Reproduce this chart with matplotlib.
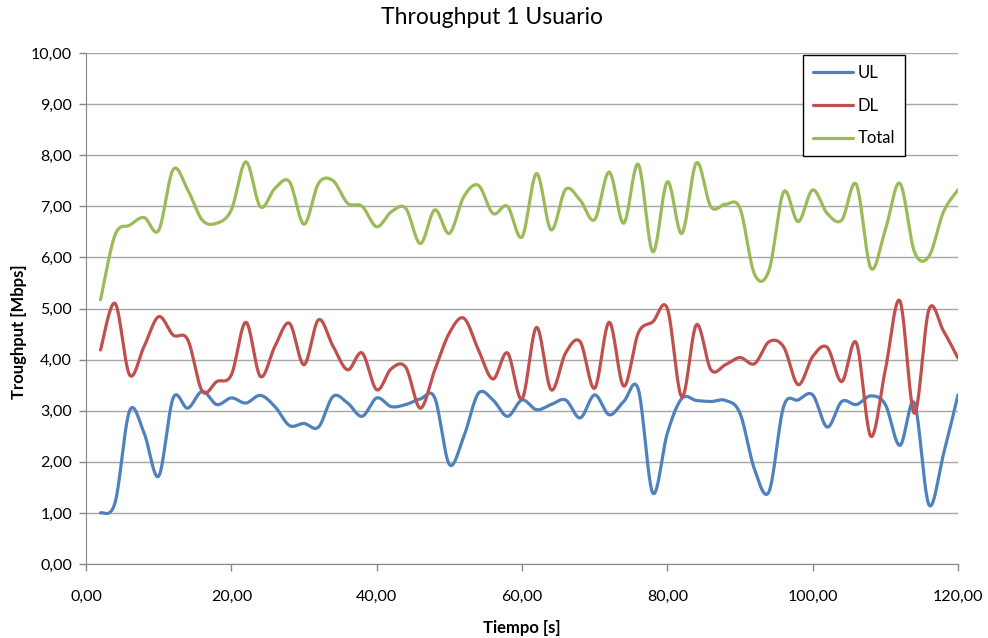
import numpy as np
import matplotlib.pyplot as plt
from matplotlib.ticker import FuncFormatter

# time in seconds (one sample every 2 s)
tiempo = list(range(2, 122, 2))

ul = [1.00, 1.20, 3.00, 2.56, 1.72, 3.25, 3.05, 3.38, 3.12, 3.25,
      3.15, 3.30, 3.08, 2.71, 2.75, 2.68, 3.28, 3.15, 2.89, 3.25,
      3.08, 3.12, 3.23, 3.25, 1.95, 2.50, 3.34, 3.21, 2.89, 3.21,
      3.02, 3.12, 3.21, 2.86, 3.31, 2.92, 3.18, 3.42, 1.39, 2.56,
      3.24, 3.20, 3.18, 3.20, 2.95, 1.85, 1.42, 3.08, 3.21, 3.31,
      2.68, 3.18, 3.12, 3.29, 3.12, 2.32, 3.15, 1.16, 2.15, 3.31]

dl = [4.19, 5.10, 3.70, 4.26, 4.84, 4.48, 4.39, 3.38, 3.57, 3.70,
      4.73, 3.67, 4.26, 4.71, 3.90, 4.78, 4.26, 3.80, 4.13, 3.41,
      3.82, 3.85, 3.05, 3.80, 4.52, 4.81, 4.19, 3.62, 4.13, 3.23,
      4.63, 3.41, 4.13, 4.35, 3.44, 4.73, 3.48, 4.52, 4.74, 5.00,
      3.27, 4.68, 3.80, 3.90, 4.04, 3.92, 4.35, 4.25, 3.51, 4.06,
      4.24, 3.57, 4.33, 2.50, 3.80, 5.15, 2.95, 4.98, 4.56, 4.03]

total = [5.17, 6.44, 6.63, 6.78, 6.53, 7.72, 7.32, 6.73, 6.67, 6.93,
         7.87, 6.99, 7.35, 7.48, 6.65, 7.45, 7.50, 7.06, 7.00, 6.60,
         6.89, 6.96, 6.27, 6.93, 6.47, 7.19, 7.41, 6.86, 7.00, 6.40,
         7.64, 6.54, 7.33, 7.12, 6.74, 7.67, 6.67, 7.82, 6.11, 7.48,
         6.47, 7.85, 6.99, 7.04, 6.96, 5.67, 5.75, 7.28, 6.70, 7.32,
         6.86, 6.73, 7.43, 5.79, 6.54, 7.45, 6.11, 6.02, 6.89, 7.32]

series = [("UL", ul, "#4F81BD"), ("DL", dl, "#C0504D"), ("Total", total, "#9BBB59")]


def smooth(x, y, n=24):
    # bezier curve through every point, like the "smoothed line" option in Excel
    x = np.asarray(x, float)
    y = np.asarray(y, float)
    px = np.concatenate([[x[0]], x, [x[-1]]])
    py = np.concatenate([[y[0]], y, [y[-1]]])
    t = np.linspace(0, 1, n, endpoint=False)[:, None]
    xs, ys = [], []
    for i in range(1, len(px) - 2):
        p0 = np.array([px[i], py[i]])
        p3 = np.array([px[i + 1], py[i + 1]])
        c1 = p0 + (np.array([px[i + 1], py[i + 1]]) - np.array([px[i - 1], py[i - 1]])) / 6
        c2 = p3 - (np.array([px[i + 2], py[i + 2]]) - np.array([px[i], py[i]])) / 6
        pts = ((1 - t) ** 3) * p0 + 3 * ((1 - t) ** 2) * t * c1 + 3 * (1 - t) * t ** 2 * c2 + t ** 3 * p3
        xs.append(pts[:, 0])
        ys.append(pts[:, 1])
    xs.append([x[-1]])
    ys.append([y[-1]])
    return np.concatenate(xs), np.concatenate(ys)


plt.rcParams['font.family'] = ['Lato', 'DejaVu Sans']

fig = plt.figure(figsize=(9.88, 6.38), dpi=100)
ax = fig.add_axes([86 / 988, 1 - 564 / 638, 872 / 988, 511 / 638])

for name, vals, color in series:
    sx, sy = smooth(tiempo, vals)
    ax.plot(sx, sy, color=color, lw=2.3, label=name, solid_capstyle='round')

ax.set_xlim(0, 120)
ax.set_ylim(0, 10)
ax.set_xticks(range(0, 121, 20))
ax.set_yticks(range(0, 11))
fmt = FuncFormatter(lambda v, p: f"{v:.2f}".replace(".", ","))
ax.xaxis.set_major_formatter(fmt)
ax.yaxis.set_major_formatter(fmt)
ax.tick_params(axis='both', labelsize=11.5, colors='#868686', labelcolor='black',
               length=5, width=1, direction='out')
ax.tick_params(axis='x', pad=14)
ax.tick_params(axis='y', pad=5)

ax.grid(axis='y', color='#a6a6a6', lw=1)
ax.set_axisbelow(True)
for side in ['top', 'right']:
    ax.spines[side].set_visible(False)
for side in ['left', 'bottom']:
    ax.spines[side].set_color('#868686')

fig.text(492 / 988, 1 - 18 / 638, 'Throughput 1 Usuario', fontsize=16.5,
         ha='center', va='center')
fig.text(522 / 988, 1 - 628 / 638, 'Tiempo [s]', fontsize=12, fontweight='bold',
         ha='center', va='center')
fig.text(19 / 988, 1 - 332 / 638, 'Troughput [Mbps]', fontsize=12, fontweight='bold',
         ha='center', va='center', rotation=90)

leg = ax.legend(loc='upper left', bbox_to_anchor=(0.822, 0.996), fontsize=12,
                handlelength=2.4, labelspacing=1.0, handletextpad=0.3,
                borderpad=0.6, borderaxespad=0, fancybox=False, framealpha=1,
                edgecolor='black')
leg.get_frame().set_linewidth(1)

fig.savefig('out.png', dpi=100)
